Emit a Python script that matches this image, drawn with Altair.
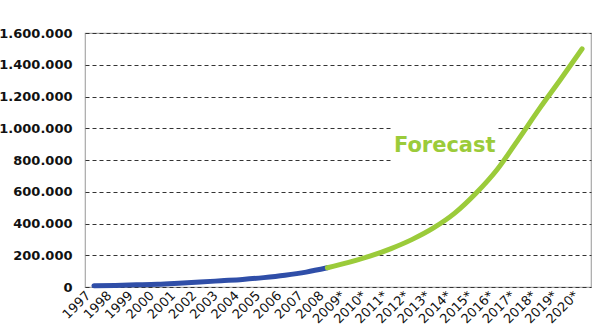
import altair as alt
import pandas as pd

# ---- data ----
years = ["1997", "1998", "1999", "2000", "2001", "2002", "2003", "2004",
         "2005", "2006", "2007", "2008", "2009*", "2010*", "2011*", "2012*",
         "2013*", "2014*", "2015*", "2016*", "2017*", "2018*", "2019*", "2020*"]
capacity_mw = [7600, 10200, 13600, 17400, 23900, 31100, 39400, 47600,
               59100, 74000, 93800, 121000, 155000, 194000, 242000, 300000,
               372000, 465000, 590000, 740000, 930000, 1125000, 1310000, 1500000]
n_historical = 12          # 1997..2008 are actual values, the rest forecast
y_ticks = [0, 200000, 400000, 600000, 800000, 1000000, 1200000, 1400000, 1600000]
title_text = "Wind Energy (MW)"
label_text = "Forecast"
label_year = "2014*"
label_value = 890000
label_box_years = ["2011*", "2016*"]
label_box_values = [788000, 1012000]

BLUE = "#2f4ea8"
GREEN = "#9bcb3a"

rows = []
for i, (yr, v) in enumerate(zip(years, capacity_mw)):
    if i < n_historical:
        rows.append({"year": yr, "mw": v, "seg": "hist"})
    if i >= n_historical - 1:
        rows.append({"year": yr, "mw": v, "seg": "fc"})
df = pd.DataFrame(rows)

x_scale = alt.Scale(type="point", padding=0.42, domain=years)
y_scale = alt.Scale(domain=[0, 1600000], nice=False, zero=True)

x_axis = alt.Axis(title=None, labelAngle=315, labelAlign="right",
                  labelBaseline="middle", labelFont="DejaVu Sans",
                  labelFontSize=13, labelColor="#111111", ticks=False,
                  tickSize=0, domain=False, grid=False, labelPadding=6,
                  labelOffset=-6, labelOverlap=False)
y_axis = alt.Axis(title=None, values=y_ticks, labelOverlap=False,
                  labelExpr="replace(format(datum.value, ','), regexp(',', 'g'), '.')",
                  labelFont="DejaVu Sans", labelFontWeight="bold",
                  labelFontSize=13, labelColor="#111111", ticks=False,
                  tickSize=0, domain=False, labelPadding=13,
                  grid=True, gridColor="#333333", gridDash=[4, 3],
                  gridWidth=1)

lines = alt.Chart(df).mark_line(strokeWidth=5, interpolate="monotone",
                                strokeCap="round").encode(
    x=alt.X("year:O", scale=x_scale, axis=x_axis),
    y=alt.Y("mw:Q", scale=y_scale, axis=y_axis),
    color=alt.Color("seg:N", scale=alt.Scale(domain=["hist", "fc"],
                                             range=[BLUE, GREEN]),
                    legend=None),
    detail="seg:N",
)

box_df = pd.DataFrame({"year": [label_box_years[0]], "year2": [label_box_years[1]],
                       "mw": [label_box_values[0]], "mw2": [label_box_values[1]]})
box = alt.Chart(box_df).mark_rect(color="white", opacity=1).encode(
    x=alt.X("year:O", scale=x_scale, axis=x_axis), x2="year2:O",
    y=alt.Y("mw:Q", scale=y_scale, axis=y_axis), y2="mw2:Q")

lab_df = pd.DataFrame({"year": [label_year], "mw": [label_value], "t": [label_text]})
label = alt.Chart(lab_df).mark_text(
    font="DejaVu Sans", fontWeight="bold", fontSize=21, color=GREEN,
    align="center", baseline="middle", dx=-10,
).encode(x=alt.X("year:O", scale=x_scale, axis=x_axis),
         y=alt.Y("mw:Q", scale=y_scale, axis=y_axis), text="t:N")

chart = alt.layer(box, lines, label).properties(
    width=506, height=254,
    title=alt.TitleParams(title_text, font="Liberation Sans", fontSize=15,
                          fontWeight="bold", color="#111111", anchor="middle",
                          baseline="alphabetic", dx=-20, offset=32),
    autosize=alt.AutoSizeParams(type="none"),
    padding={"left": 85, "top": 33, "right": 13, "bottom": 43},
    background="white",
).configure_view(stroke="#a8a8a8", strokeWidth=1.2)

chart.save("out.html", embed_options={"renderer": "svg", "actions": False})
